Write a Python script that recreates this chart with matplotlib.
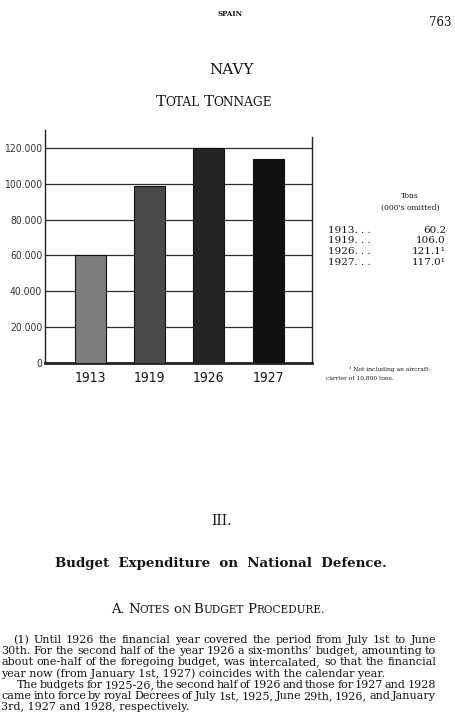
import matplotlib.pyplot as plt

# chart values
years = ['1913', '1919', '1926', '1927']
tonnage = [60000, 99000, 120000, 114000]
bar_greys = ['#7c7c7c', '#4a4a4a', '#252525', '#111111']
y_ticks = [0, 20000, 40000, 60000, 80000, 100000, 120000]
y_tick_labels = ['0', '20.000', '40.000', '60.000', '80.000', '100.000', '120.000']

# side table
table_years = ['1913. . .', '1919. . .', '1926. . .', '1927. . .']
table_values = ['60.2', '106.0', '121.1¹', '117.0¹']

body_lines = [
    '(1)  Until 1926 the financial year covered the period from July 1st to June',
    '30th.  For the second half of the year 1926 a six-months\u2019 budget, amounting to',
    'about one-half of the foregoing budget, was intercalated, so that the financial',
    'year now (from January 1st, 1927) coincides with the calendar year.',
    'The budgets for 1925-26, the second half of 1926 and those for 1927 and 1928',
    'came into force by royal Decrees of July 1st, 1925, June 29th, 1926, and January',
    '3rd, 1927 and 1928, respectively.',
]

W, H = 455, 712
SERIF = 'DejaVu Serif'
NARROW = 'DejaVu Sans'
INK = '#151515'

fig = plt.figure(figsize=(W / 100, H / 100), dpi=100)
fig.patch.set_facecolor('white')
renderer = fig.canvas.get_renderer()


def fx(x):
    return x / W


def fy(y):
    return 1 - y / H


def width_of(t):
    return t.get_window_extent(renderer).width


def put(x, y, s, **kw):
    kw.setdefault('family', SERIF)
    kw.setdefault('color', INK)
    kw.setdefault('va', 'center')
    return fig.text(fx(x), fy(y), s, **kw)


def small_caps(xc, y, s, big, small, **kw):
    # fake small caps: capitals at full size, the rest upper-cased smaller
    pieces = []
    for word in s.split(' '):
        pieces.append((word[0], big))
        if len(word) > 1:
            pieces.append((word[1:].upper(), small))
        pieces.append((' ', small))
    pieces = pieces[:-1]
    texts = [put(0, y, p, fontsize=sz, ha='left', va='baseline', **kw) for p, sz in pieces]
    widths = [width_of(t) for t in texts]
    x = xc - sum(widths) / 2
    for t, w in zip(texts, widths):
        t.set_x(fx(x))
        x += w


def justified(x0, x1, y, line, size):
    words = line.split()
    texts = [put(0, y, w, fontsize=size, ha='left') for w in words]
    widths = [width_of(t) for t in texts]
    gap = (x1 - x0 - sum(widths)) / max(len(words) - 1, 1)
    x = x0
    for t, w in zip(texts, widths):
        t.set_x(fx(x))
        x += w + gap


# page header
put(230, 14, 'SPAIN', fontsize=5, fontweight='bold', ha='center')
put(440, 23, '763', fontsize=8.5, ha='center')
put(231, 70, 'NAVY', fontsize=11, ha='center')
small_caps(214, 106, 'Total Tonnage', 11, 8.8)

# bar chart
ax = fig.add_axes([fx(45), fy(363), fx(312) - fx(45), (363 - 130) / H])
x = list(range(len(years)))
ax.bar(x, tonnage, width=0.52, color=bar_greys, edgecolor='#111111', linewidth=0.8, zorder=3)
ax.set_xlim(-0.76, 3.74)
ax.set_ylim(0, 130000)
ax.set_yticks(y_ticks)
ax.set_yticklabels(y_tick_labels, family=NARROW, fontstretch='condensed', fontsize=7.5, color='#333333')
ax.set_xticks(x)
ax.set_xticklabels(years, family=NARROW, fontstretch='condensed', fontsize=10, color=INK)
ax.tick_params(axis='both', length=0)
ax.tick_params(axis='y', pad=2)
ax.tick_params(axis='x', pad=6)
ax.yaxis.grid(True, color='#2e2e2e', linewidth=0.9)
ax.set_axisbelow(True)
ax.spines['top'].set_visible(False)
ax.spines['left'].set_linewidth(1.0)
ax.spines['right'].set_linewidth(1.0)
ax.spines['right'].set_bounds(0, 126000)
ax.spines['bottom'].set_linewidth(2.0)
for s in ax.spines.values():
    s.set_color('#222222')

# side table
put(410, 196, 'Tons', fontsize=5.5, ha='center')
put(410, 208, "(000's omitted)", fontsize=5.5, ha='center')
for i, (yr, val) in enumerate(zip(table_years, table_values)):
    yy = 230 + i * 10.7
    put(328, yy, yr, fontsize=7.5, ha='left')
    put(446, yy, val, fontsize=7.5, ha='right')
put(390, 369, '¹ Not including an aircraft-', fontsize=4.3, ha='center')
put(326, 378, 'carrier of 10,800 tons.', fontsize=4.3, ha='left')

# section heading
put(221, 521, 'III.', fontsize=10, ha='center')
put(221, 563, 'Budget  Expenditure  on  National  Defence.', fontsize=9.6, fontweight='bold', ha='center')
small_caps(218, 613, 'A. Notes on Budget Procedure.', 9.5, 7.6)

# body text
starts = [13, 1, 1, 1, 17, 1, 1]
for i, line in enumerate(body_lines):
    yy = 640 + i * 11.2
    if i in (3, 6):
        put(starts[i], yy, line, fontsize=8, ha='left')
    else:
        justified(starts[i], 436, yy, line, 8)

fig.savefig('out.png', dpi=100, facecolor='white')
